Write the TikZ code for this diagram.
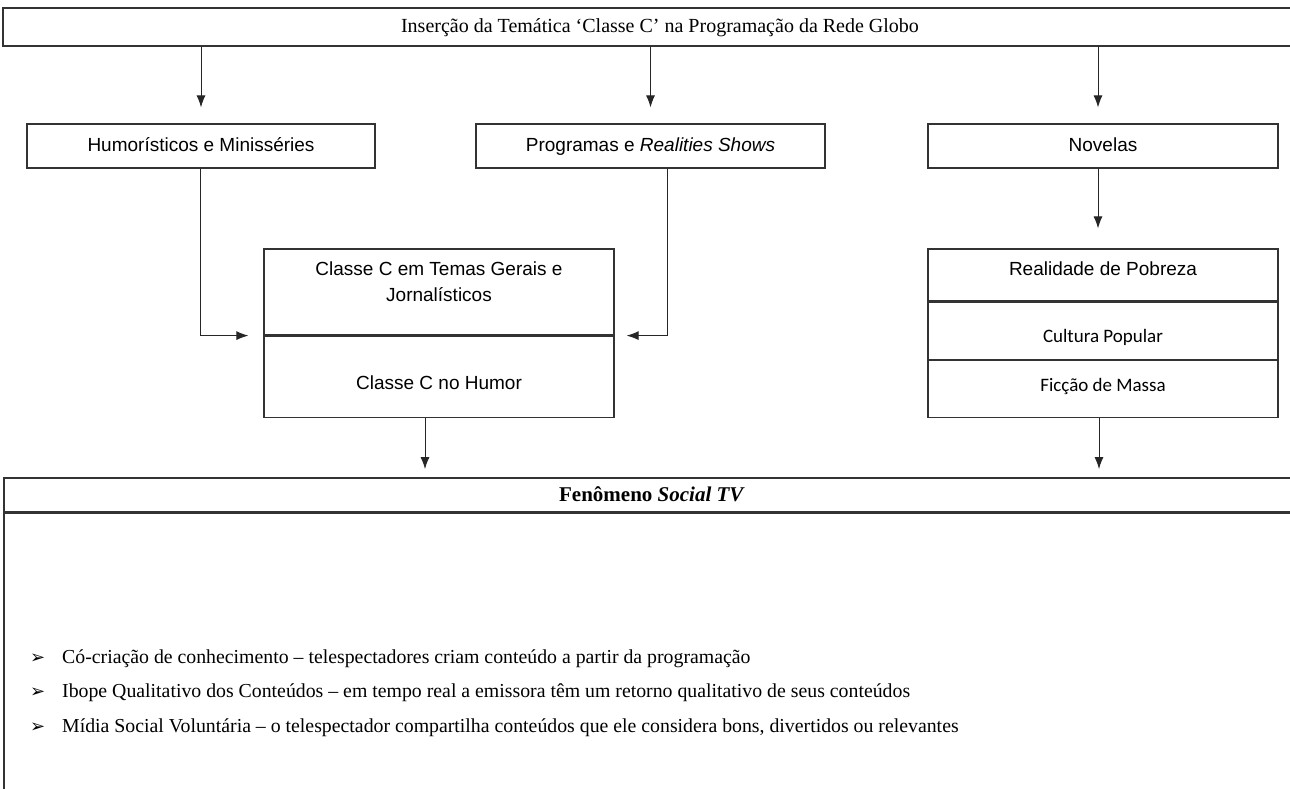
\documentclass[tikz,border=0pt]{standalone}
\usepackage{fontspec}
\setmainfont{Liberation Serif}
\setsansfont{Liberation Sans}
\newfontfamily\carlito{Carlito}
\newfontfamily\dejavu{DejaVu Sans}
\usetikzlibrary{arrows.meta,positioning,calc}
\tikzset{font={\sffamily\fontsize{19pt}{23pt}\selectfont}}
\newcommand{\marcador}{\makebox[32pt][l]{\dejavu\fontsize{18pt}{18pt}\selectfont ➢}}

\begin{document}
\begin{tikzpicture}[x=1pt,y=-1pt,
caixa/.style={draw=black!80,line width=1.2pt,inner sep=0pt,minimum height=44pt,text height=14pt,text depth=4pt},
celula/.style={draw=black!80,line width=1.2pt,inner sep=0pt,minimum width=350pt},
faixa/.style={draw=black!80,line width=1.8pt,inner sep=0pt,text height=14pt,text depth=2pt,font={\rmfamily\fontsize{20pt}{22pt}\selectfont}},
seta/.style={draw=black!85,line width=1pt,-{Latex[length=12pt,width=9pt]}},
item/.style={anchor=base west,inner sep=0pt,font={\rmfamily\fontsize{19.8pt}{22pt}\selectfont}}
]
\useasboundingbox (0,0) rectangle (1290,789);
\clip (0,0) rectangle (1290,789);

% topo
\node[faixa,minimum width=1314pt,minimum height=38pt] (tema) at (660,27) {Inserção da Temática ‘Classe C’ na Programação da Rede Globo};

\node[caixa,minimum width=348pt] (humoristicos) at (201,146) {Humorísticos e Minisséries};
\node[caixa,minimum width=349pt] (programas) at (650.5,146) {Programas e \textit{Realities Shows}};
\node[caixa,minimum width=350pt] (novelas) at (1103,146) {Novelas};

\draw[seta,shorten >=16pt] (tema.south -| humoristicos.north) -- (humoristicos.north);
\draw[seta,shorten >=16pt] (tema.south -| programas.north) -- (programas.north);
\draw[seta,shorten >=16pt] ([xshift=-5pt]tema.south -| novelas.north) -- ([xshift=-5pt]novelas.north);

% bloco classe C
\node[celula,minimum height=86pt] (gerais) at (439,292) {};
\node[celula,minimum height=81pt,anchor=north] (nohumor) at (gerais.south) {};
\node[align=center,font={\sffamily\fontsize{19pt}{26pt}\selectfont}] (geraistxt) at ($(gerais.center)+(0,-10)$) {Classe C em Temas Gerais e\\Jornalísticos};
\node (nohumortxt) at ($(nohumor.center)+(0,6)$) {Classe C no Humor};

% bloco novelas
\node[celula,minimum height=52pt] (pobreza) at (1103,275) {};
\node[celula,minimum height=57pt,anchor=north] (cultura) at (pobreza.south) {};
\node[celula,minimum height=57pt,anchor=north] (ficcao) at (cultura.south) {};
\node (pobrezatxt) at ($(pobreza.center)+(0,-6)$) {Realidade de Pobreza};
\node[font={\carlito\fontsize{19pt}{23pt}\selectfont}] (culturatxt) at ($(cultura.center)+(0,7)$) {Cultura Popular};
\node[font={\carlito\fontsize{19pt}{23pt}\selectfont}] (ficcaotxt) at ($(ficcao.center)+(0,-2)$) {Ficção de Massa};

\draw[seta,shorten >=15pt] ([xshift=-1pt]humoristicos.south) |- (gerais.south west);
\draw[seta,shorten >=12pt] ([xshift=16.5pt]programas.south) |- (gerais.south east);
\draw[seta,shorten >=20pt] ([xshift=-5pt]novelas.south) -- ([xshift=-5pt]pobreza.north);

% fenomeno
\node[faixa,minimum width=1296pt,minimum height=34pt,font={\rmfamily\fontsize{21pt}{23pt}\selectfont}] (fenomeno) at (652,495) {\textbf{Fenômeno \textit{Social TV}}};
\node[draw=black!80,line width=1.5pt,inner sep=0pt,minimum width=1296pt,minimum height=320pt,anchor=north] (corpo) at (fenomeno.south) {};

\draw[seta,shorten >=8pt] ([xshift=-14pt]nohumor.south) -- ([xshift=-14pt]nohumor.south |- fenomeno.north);
\draw[seta,shorten >=8pt] ([xshift=-4pt]ficcao.south) -- ([xshift=-4pt]ficcao.south |- fenomeno.north);

\node[item] (cocriacao) at (30,663) {\marcador Có-criação de conhecimento – telespectadores criam conteúdo a partir da programação};
\node[item] (ibope) at (30,697) {\marcador Ibope Qualitativo dos Conteúdos – em tempo real a emissora têm um retorno qualitativo de seus conteúdos};
\node[item] (midia) at (30,732) {\marcador Mídia Social Voluntária – o telespectador compartilha conteúdos que ele considera bons, divertidos ou relevantes};
\end{tikzpicture}
\end{document}
